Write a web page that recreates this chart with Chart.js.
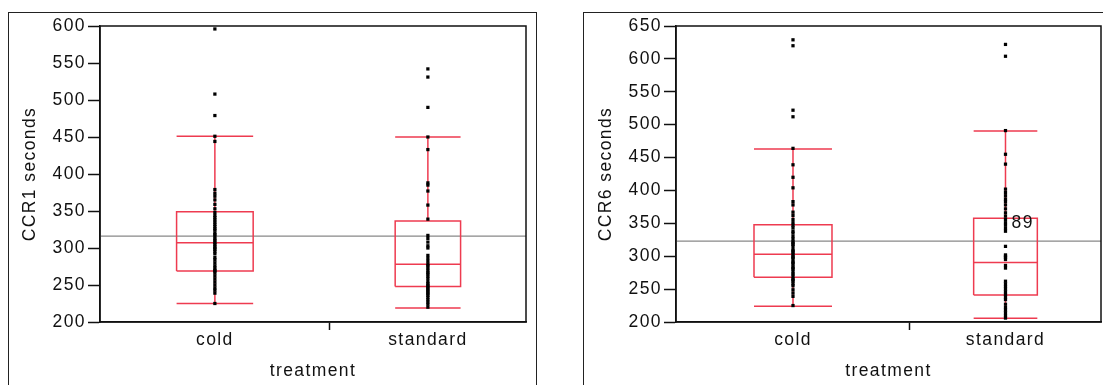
<!DOCTYPE html>
<html>
<head>
<meta charset="utf-8">
<script src="https://cdn.jsdelivr.net/npm/chart.js@4"></script>
<style>
  body { margin: 0; background: #fff; width: 1103px; height: 385px; overflow: hidden; position: relative; }
  .panel { position: absolute; top: 12px; width: 527px; height: 380px; border: 1px solid #222; }
  #p1 { left: 8px; }
  #p2 { left: 583px; }
</style>
</head>
<body>
<div class="panel" id="p1"><canvas id="chart-ccr1" width="527" height="380"></canvas></div>
<div class="panel" id="p2"><canvas id="chart-ccr6" width="527" height="380"></canvas></div>
<script>
const categories = ['cold', 'standard'];

// CCR1 seconds, one value per animal
const ccr1Cold = [596, 508, 479, 451, 444, 379, 374, 370, 365, 359, 353, 348, 344, 341, 338, 335,
  332, 329, 326, 324, 320, 318, 315, 312, 310, 307, 305, 302, 300, 298, 295, 292, 287, 284, 280,
  276, 273, 270, 269, 266, 262, 258, 254, 250, 246, 243, 239, 225];
const ccr1Standard = [542, 531, 490, 450, 433, 388, 385, 377, 358, 339, 317, 313, 308, 303, 300,
  290, 286, 282, 278, 276, 273, 270, 267, 265, 262, 259, 255, 252, 250, 248, 246, 244, 242, 240,
  238, 236, 233, 230, 227, 224, 220];
const ccr1Counts = [48, 41];
const ccr1Low = [225, 219];
const ccr1Q1 = [269, 248];
const ccr1Median = [307, 278];
const ccr1Q3 = [349, 336.5];
const ccr1High = [451, 450];
const ccr1Mean = 316;
const ccr1Ticks = [200, 250, 300, 350, 400, 450, 500, 550, 600];

// CCR6 seconds
const ccr6Cold = [629, 620, 522, 512, 464, 439, 420, 404, 383, 378, 367, 362, 356, 351, 347, 343,
  338, 335, 330, 326, 322, 320, 318, 315, 310, 308, 306, 303, 300, 298, 296, 292, 290, 288, 284,
  282, 280, 276, 273, 270, 266, 264, 262, 258, 255, 249, 244, 239, 225];
const ccr6Standard = [622, 604, 491, 455, 440, 402, 397, 392, 387, 383, 378, 372, 366, 361, 356,
  351, 347, 342, 338, 315, 302, 300, 298, 295, 286, 282, 262, 258, 254, 250, 246, 242, 238, 234,
  227, 222, 218, 214, 210, 206];
const ccr6Counts = [49, 40];
const ccr6Low = [224, 205.6];
const ccr6Q1 = [268, 241];
const ccr6Median = [303, 290.5];
const ccr6Q3 = [348, 357.6];
const ccr6High = [463, 490.5];
const ccr6Mean = 323;
const ccr6Ticks = [200, 250, 300, 350, 400, 450, 500, 550, 600, 650];
const ccr6LabelRows = ['89'];
const ccr6LabelValues = [350];
const ccr6LabelGroups = [1];

const red = '#ee3b50';
const font = { family: "'Liberation Sans', Arial, sans-serif", size: 17.5 };

const panelPlugin = {
  id: 'panel',
  beforeUpdate(chart) { chart.ctx.letterSpacing = '1.4px'; },
  beforeDraw(chart) { chart.ctx.letterSpacing = '1.4px'; },
  afterDraw(chart, args, opts) {
    const { ctx, chartArea: a } = chart;
    ctx.save();
    ctx.strokeStyle = '#111';
    ctx.lineWidth = 1.5;
    ctx.strokeRect(a.left, a.top, a.right - a.left, a.bottom - a.top);
    const xs = chart.scales.x, ys = chart.scales.y;
    ctx.fillStyle = '#111';
    ctx.font = font.size + 'px ' + font.family;
    ctx.textBaseline = 'middle';
    (opts.labels || []).forEach((l) => {
      ctx.fillText(l.text, xs.getPixelForValue(l.x) + 6, ys.getPixelForValue(l.y));
    });
    ctx.restore();
  },
};

const makePanel = (id, yTitle, yMax, ticks, groups, counts, low, q1, med, q3, high, mean, yWidth, titlePad, labels) => {
  const total = counts[0] + counts[1];
  const centers = [counts[0] / 2, counts[0] + counts[1] / 2];
  const boundary = counts[0];

  const points = [];
  groups.forEach((vals, i) => vals.forEach((v) => points.push({ x: centers[i], y: v })));

  const box = [];
  const gap = () => box.push({ x: 0, y: null });
  centers.forEach((c, i) => {
    const w = counts[i] / 6;
    box.push({ x: c - w, y: q1[i] }, { x: c + w, y: q1[i] }, { x: c + w, y: q3[i] }, { x: c - w, y: q3[i] }, { x: c - w, y: q1[i] });
    gap();
    box.push({ x: c - w, y: med[i] }, { x: c + w, y: med[i] });
    gap();
    box.push({ x: c, y: q1[i] }, { x: c, y: low[i] });
    gap();
    box.push({ x: c - w, y: low[i] }, { x: c + w, y: low[i] });
    gap();
    box.push({ x: c, y: q3[i] }, { x: c, y: high[i] });
    gap();
    box.push({ x: c - w, y: high[i] }, { x: c + w, y: high[i] });
    gap();
  });

  const chart = new Chart(document.getElementById(id), {
    type: 'scatter',
    data: {
      datasets: [
        {
          label: 'values',
          data: points,
          pointStyle: 'rect',
          radius: 2.3,
          borderWidth: 0,
          backgroundColor: '#000',
        },
        {
          label: 'box',
          data: box,
          showLine: true,
          spanGaps: false,
          borderColor: red,
          borderWidth: 1.5,
          pointRadius: 0,
        },
        {
          label: 'mean',
          data: [{ x: 0, y: mean }, { x: total, y: mean }],
          showLine: true,
          borderColor: '#888',
          borderWidth: 1.2,
          pointRadius: 0,
        },
      ],
    },
    options: {
      responsive: false,
      animation: false,
      layout: { padding: { left: 0, right: 10, top: 13, bottom: 0 } },
      plugins: {
        legend: { display: false },
        tooltip: { enabled: false },
        panel: {
          labels: (labels || []).map((l) => ({ text: l.text, x: centers[l.group], y: l.y })),
        },
      },
      scales: {
        x: {
          type: 'linear',
          min: 0,
          max: total,
          afterBuildTicks: (scale) => {
            scale.ticks = [{ value: centers[0] }, { value: boundary }, { value: centers[1] }];
          },
          afterFit: (scale) => { scale.height = 71; },
          ticks: {
            autoSkip: false,
            maxRotation: 0,
            padding: 0,
            color: '#111',
            font,
            callback: (value, index) => [categories[0], '', categories[1]][index],
          },
          grid: {
            drawOnChartArea: false,
            tickLength: 8,
            tickWidth: 1.5,
            tickColor: (ctx) => (ctx.index === 1 ? '#111' : 'rgba(0,0,0,0)'),
          },
          border: { display: true, color: '#111', width: 1.5 },
          title: {
            display: true,
            text: 'treatment',
            color: '#111',
            font,
            padding: { top: 0, bottom: 11 },
          },
        },
        y: {
          min: 200,
          max: yMax,
          afterBuildTicks: (scale) => {
            scale.ticks = ticks.map((v) => ({ value: v }));
          },
          afterFit: (scale) => { scale.width = yWidth; },
          ticks: { padding: 2, color: '#111', font },
          grid: {
            drawOnChartArea: false,
            tickLength: 12,
            tickWidth: 1.5,
            tickColor: '#111',
          },
          border: { display: true, color: '#111', width: 1.5 },
          title: {
            display: true,
            text: yTitle,
            color: '#111',
            font,
            padding: { top: titlePad, bottom: 0 },
          },
        },
      },
    },
    plugins: [panelPlugin],
  });

  return chart;
};

makePanel('chart-ccr1', 'CCR1 seconds', 600, ccr1Ticks, [ccr1Cold, ccr1Standard], ccr1Counts,
  ccr1Low, ccr1Q1, ccr1Median, ccr1Q3, ccr1High, ccr1Mean, 91, 11);

makePanel('chart-ccr6', 'CCR6 seconds', 650, ccr6Ticks, [ccr6Cold, ccr6Standard], ccr6Counts,
  ccr6Low, ccr6Q1, ccr6Median, ccr6Q3, ccr6High, ccr6Mean, 92, 12,
  ccr6LabelRows.map((t, i) => ({ text: t, group: ccr6LabelGroups[i], y: ccr6LabelValues[i] })));
</script>
</body>
</html>
